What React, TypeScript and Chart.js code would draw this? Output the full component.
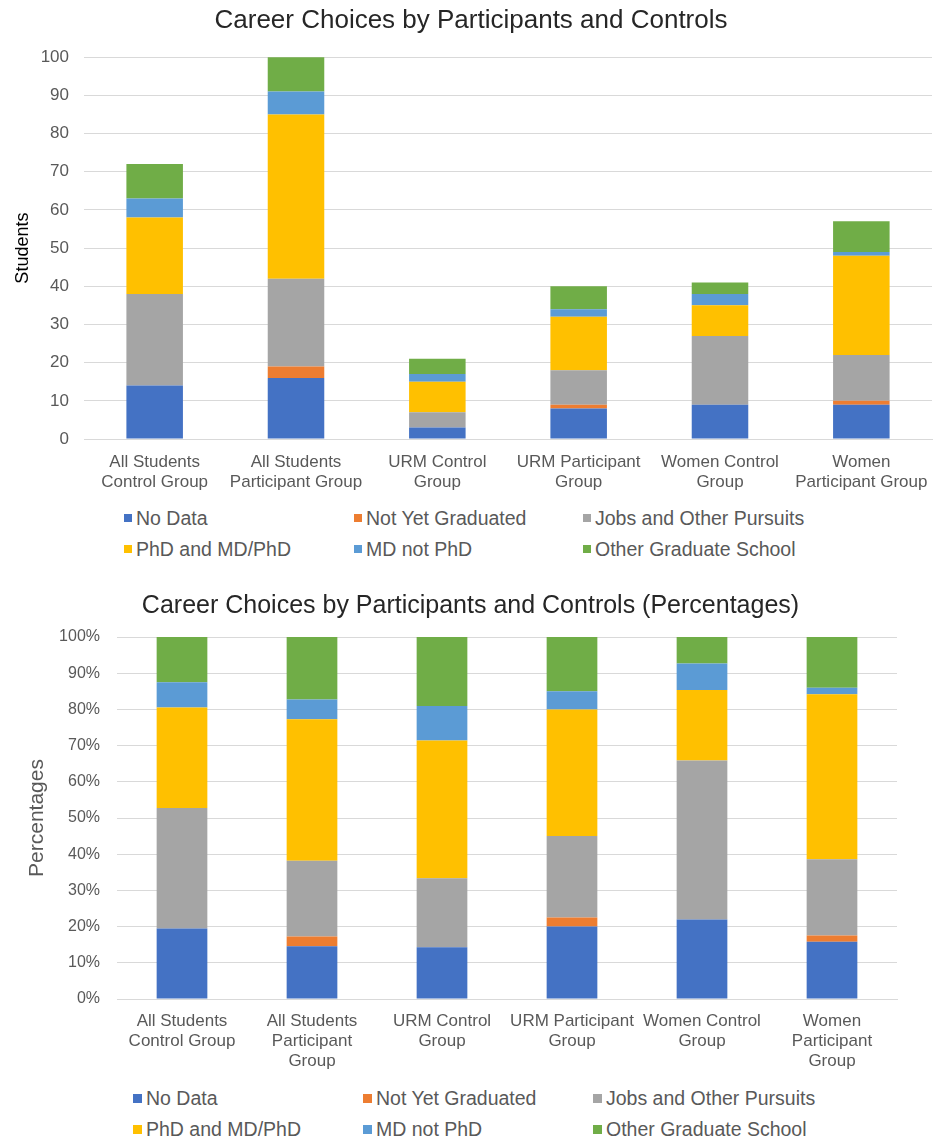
import React, { useEffect, useRef } from 'react';
import { Chart, registerables } from 'chart.js';

Chart.register(...registerables);

const FONT = "'Liberation Sans', Arial, sans-serif";

// Categories (multi-line tick labels)
const categoriesCounts: string[][] = [
  ['All Students', 'Control Group'],
  ['All Students', 'Participant Group'],
  ['URM Control', 'Group'],
  ['URM Participant', 'Group'],
  ['Women Control', 'Group'],
  ['Women', 'Participant Group'],
];
const categoriesPct: string[][] = [
  ['All Students', 'Control Group'],
  ['All Students', 'Participant', 'Group'],
  ['URM Control', 'Group'],
  ['URM Participant', 'Group'],
  ['Women Control', 'Group'],
  ['Women', 'Participant', 'Group'],
];

// Series (number of students)
const noData = [14, 16, 3, 8, 9, 9];
const notYetGraduated = [0, 3, 0, 1, 0, 1];
const jobsOther = [24, 23, 4, 9, 18, 12];
const phdMdPhd = [20, 43, 8, 14, 8, 26];
const mdNotPhd = [5, 6, 2, 2, 3, 1];
const otherGradSchool = [9, 19, 4, 6, 3, 8];

const seriesNames = [
  'No Data',
  'Not Yet Graduated',
  'Jobs and Other Pursuits',
  'PhD and MD/PhD',
  'MD not PhD',
  'Other Graduate School',
];
const seriesColors = ['#4472C4', '#ED7D31', '#A5A5A5', '#FFC000', '#5B9BD5', '#70AD47'];
const seriesValues = [noData, notYetGraduated, jobsOther, phdMdPhd, mdNotPhd, otherGradSchool];

const totals = categoriesCounts.map((_, i) => seriesValues.reduce((s, arr) => s + arr[i], 0));

type ChartProps = {
  percent: boolean;
  width: number;
  height: number;
};

function StackedChart({ percent, width, height }: ChartProps) {
  const ref = useRef<HTMLCanvasElement | null>(null);

  useEffect(() => {
    if (!ref.current) return;
    const datasets = seriesNames.map((name, k) => ({
      label: name,
      data: seriesValues[k].map((v, i) => (percent ? (v / totals[i]) * 100 : v)),
      backgroundColor: seriesColors[k],
      borderWidth: 0,
      barPercentage: percent ? 0.39 : 0.4,
      categoryPercentage: 1,
      clip: 0,
      yAxisID: 'y',
    }));

    const chart = new Chart(ref.current, {
      type: 'bar',
      data: {
        labels: percent ? categoriesPct : categoriesCounts,
        datasets,
      },
      options: {
        animation: false,
        responsive: false,
        maintainAspectRatio: false,
        layout: {
          padding: percent
            ? { left: 22, right: 23, top: 0, bottom: 0 }
            : { left: 10, right: 10, top: 0, bottom: 0 },
        },
        plugins: {
          legend: { display: false },
          tooltip: { enabled: false },
          title: {
            display: true,
            text: percent
              ? 'Career Choices by Participants and Controls (Percentages)'
              : 'Career Choices by Participants and Controls',
            color: '#262626',
            font: { family: FONT, size: percent ? 25 : 26, weight: 'normal' },
            padding: percent ? { top: 16, bottom: 16 } : { top: 5, bottom: 21 },
          },
        },
        scales: {
          x: {
            stacked: true,
            grid: { display: false, drawTicks: false },
            border: { color: '#d9d9d9' },
            ticks: {
              color: '#595959',
              font: { family: FONT, size: 17, lineHeight: 1.18 },
              padding: percent ? 12 : 13,
              maxRotation: 0,
              autoSkip: false,
            },
            afterFit: (s: any) => {
              s.height = percent ? 76 : 66;
            },
          },
          y: {
            stacked: true,
            min: 0,
            max: 100,
            grid: { color: '#d9d9d9', drawTicks: false },
            border: { display: false },
            ticks: {
              stepSize: 10,
              color: '#595959',
              font: { family: FONT, size: percent ? 16 : 17 },
              padding: percent ? 17 : 15,
              callback: (v: any) => (percent ? `${v}%` : `${v}`),
            },
            title: {
              display: true,
              text: percent ? 'Percentages' : 'Students',
              color: percent ? '#595959' : '#000000',
              font: { family: FONT, size: percent ? 21 : 18 },
              padding: percent ? { top: 3, bottom: 0 } : { top: 2, bottom: 0 },
            },
            afterFit: (s: any) => {
              s.width = percent ? 95 : 74;
            },
          },
          // empty spacer on the right so the plot ends where the original does
          ySpacer: {
            type: 'linear',
            position: 'right',
            display: true,
            min: 0,
            max: 100,
            grid: { display: false, drawTicks: false },
            border: { display: false },
            ticks: { display: false },
            afterFit: (s: any) => {
              s.width = percent ? 22 : 0;
            },
          },
        },
      },
    });
    return () => chart.destroy();
  }, [percent]);

  return <canvas ref={ref} width={width} height={height} style={{ width, height, display: 'block' }} />;
}

type LegendProps = {
  cols: number[];
  rows: number[];
  size: number;
  square: number;
};

function Legend({ cols, rows, size, square }: LegendProps) {
  return (
    <>
      {seriesNames.map((name, k) => {
        const col = cols[k % 3];
        const row = rows[Math.floor(k / 3)];
        return (
          <div
            key={name}
            style={{
              position: 'absolute',
              left: col,
              top: row - 12,
              height: 24,
              display: 'flex',
              alignItems: 'center',
              whiteSpace: 'nowrap',
              fontFamily: FONT,
              fontSize: size,
              color: '#595959',
            }}
          >
            <span
              style={{
                display: 'inline-block',
                width: square,
                height: square,
                background: seriesColors[k],
                marginRight: 4,
              }}
            />
            <span>{name}</span>
          </div>
        );
      })}
    </>
  );
}

export default function App() {
  return (
    <div
      style={{
        position: 'absolute',
        left: 0,
        top: 0,
        width: 942,
        height: 1137,
        background: '#ffffff',
        overflow: 'hidden',
      }}
    >
      <div style={{ position: 'absolute', left: 0, top: 0 }}>
        <StackedChart percent={false} width={942} height={505} />
      </div>
      <Legend cols={[124, 354, 583]} rows={[518, 549]} size={19.5} square={8} />
      <div style={{ position: 'absolute', left: 0, top: 575 }}>
        <StackedChart percent={true} width={942} height={500} />
      </div>
      <Legend cols={[133, 363, 593]} rows={[1098, 1129]} size={19.5} square={9} />
    </div>
  );
}
